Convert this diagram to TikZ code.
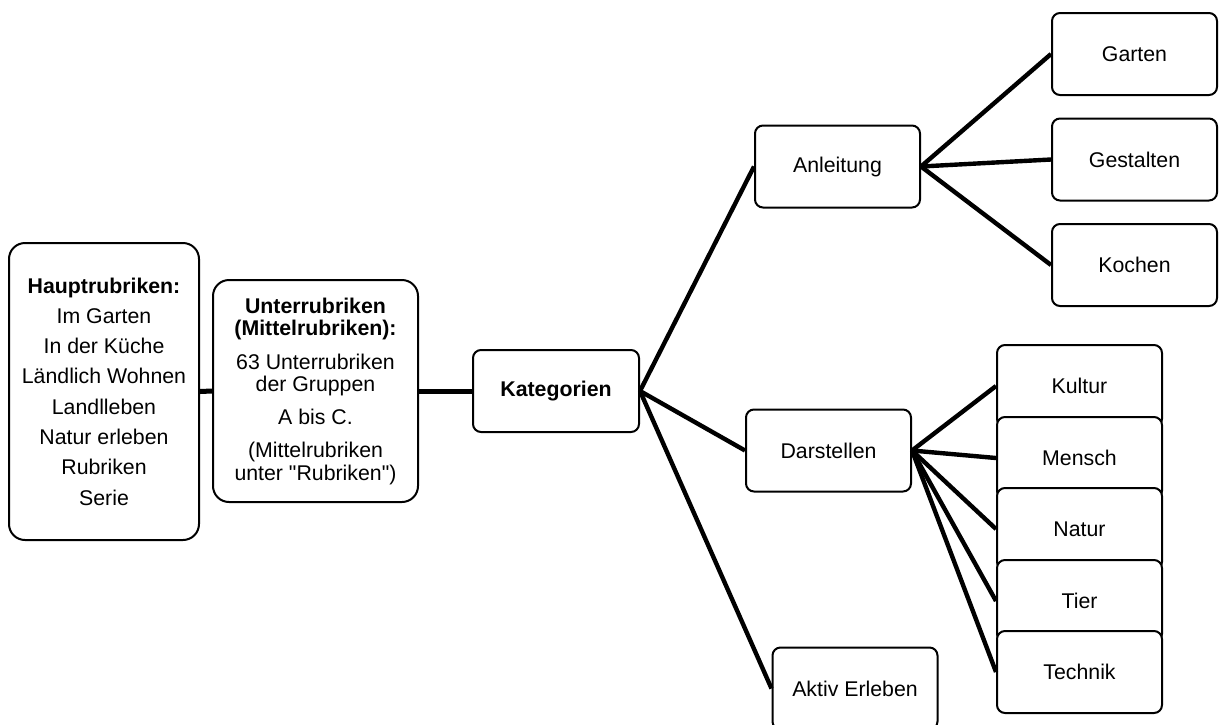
\documentclass[tikz,border=0pt]{standalone}
\usepackage{fontspec}
\setmainfont{Liberation Sans}[Ligatures=TeXOff]
\begin{document}
\begin{tikzpicture}[x=1pt,y=-1pt,
  box/.style={draw, line width=2pt, rounded corners=8pt, fill=white,
    minimum width=165pt, minimum height=82pt, inner sep=0pt,
    font=\fontsize{21.3}{25}\selectfont, align=center},
  bigbox/.style={box, rounded corners=16pt},
  link/.style={line width=4.4pt}
]
\clip (0,0) rectangle (1220,724);
\fill[white] (0,0) rectangle (1220,724);

\node[bigbox, minimum width=190pt, minimum height=297pt,
  font=\fontsize{21.3}{30.3}\selectfont] (haupt) at (104,391.5)
  {\textbf{Hauptrubriken:}\\Im Garten\\In der Küche\\Ländlich Wohnen\\Landlleben\\Natur erleben\\Rubriken\\Serie};
\node[bigbox, minimum width=205pt, minimum height=222pt,
  font=\fontsize{21.3}{22.5}\selectfont] (unter) at (315.5,391)
  {\textbf{Unterrubriken}\\\textbf{(Mittelrubriken):}\\[11pt]63 Unterrubriken\\der Gruppen\\[10pt]A bis C.\\[11pt](Mittelrubriken\\unter "Rubriken")};
\node[box, minimum width=166pt] (kat) at (556,391) {\textbf{Kategorien}};

\node[box] (anl) at (837.5,166.5) {Anleitung};
\node[box] (garten) at (1134.5,54) {Garten};
\node[box] (gest) at (1134.5,159.5) {Gestalten};
\node[box] (koch) at (1134.5,265) {Kochen};

\node[box] (darst) at (828.5,450.5) {Darstellen};
\node[box] (kultur) at (1079.5,386) {Kultur};
\node[box] (mensch) at (1079.5,458) {Mensch};
\node[box] (natur) at (1079.5,529) {Natur};
\node[box] (tier) at (1079.5,601) {Tier};
\node[box] (technik) at (1079.5,672) {Technik};

\node[box] (aktiv) at (855,688.5) {Aktiv Erleben};

\draw[link, line width=5pt] (haupt.east) -- (unter.west);
\draw[link, line width=5pt] (unter.east) -- (kat.west);
\draw[link] (kat.east) -- (anl.west);
\draw[link] (kat.east) -- (darst.west);
\draw[link] (kat.east) -- (aktiv.west);
\draw[link] (anl.east) -- (garten.west);
\draw[link] (anl.east) -- (gest.west);
\draw[link] (anl.east) -- (koch.west);
\draw[link] (darst.east) -- (kultur.west);
\draw[link] (darst.east) -- (mensch.west);
\draw[link] (darst.east) -- (natur.west);
\draw[link] (darst.east) -- (tier.west);
\draw[link] (darst.east) -- (technik.west);
\end{tikzpicture}
\end{document}
